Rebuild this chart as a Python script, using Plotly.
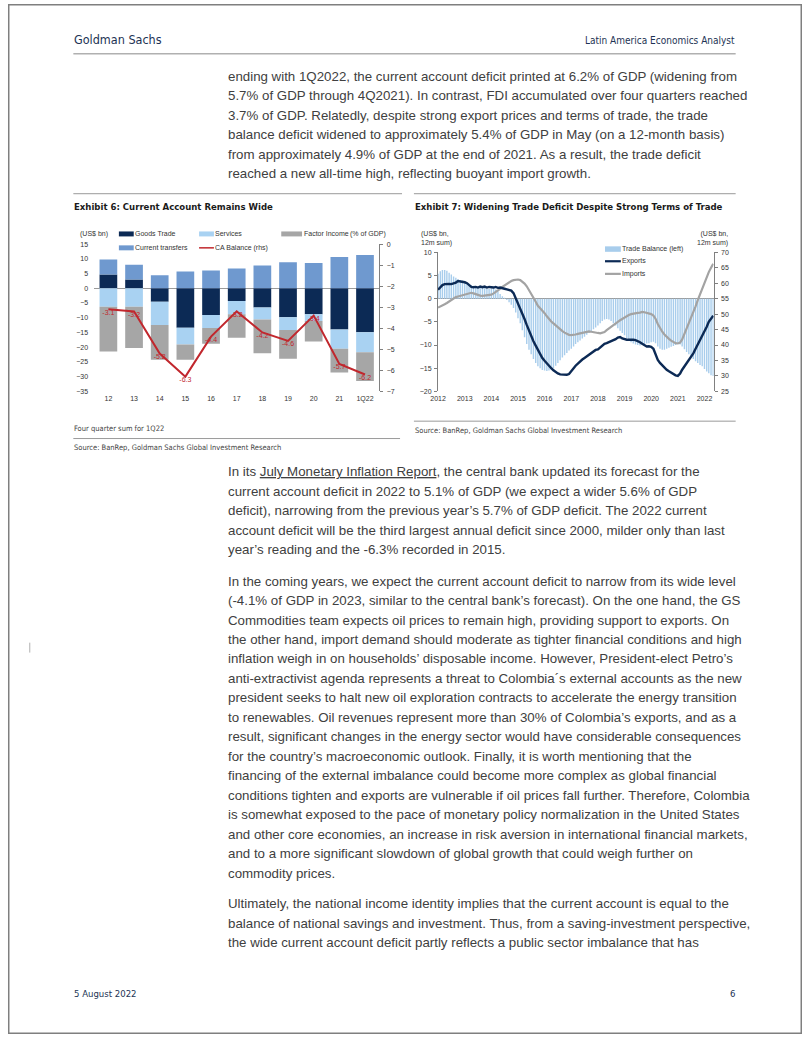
import plotly.graph_objects as go
import pandas as pd

W, H = 802, 1037

# ---------------- Exhibit 6 data (US$ bn, % of GDP) ----------------
ca_periods = ["12", "13", "14", "15", "16", "17", "18", "19", "20", "21", "1Q22"]
goods_trade = [4.7, 3.0, -4.6, -13.4, -9.1, -4.3, -6.5, -9.8, -8.8, -14.0, -14.9]
services = [-6.3, -6.3, -7.9, -5.7, -4.4, -4.5, -4.1, -4.4, -2.3, -6.5, -6.8]
factor_income = [-15.2, -14.0, -11.8, -5.2, -5.3, -8.0, -11.5, -9.7, -7.0, -8.1, -9.8]
current_transfers = [5.1, 5.0, 4.4, 5.7, 6.0, 6.7, 7.7, 8.8, 8.6, 10.6, 11.3]
ca_balance = [-3.1, -3.2, -5.2, -6.3, -4.4, -3.2, -4.2, -4.6, -3.4, -5.7, -6.2]

# ---------------- Exhibit 7 data (monthly, Jan 2012 - May 2022) ----------------
trade_start = "2012-01-01"
trade_balance = [
    5.4, 5.9, 6.2, 6.2, 6.0, 5.6, 5.2, 4.8, 4.5, 4.2, 4.0, 3.9,          # 2012
    3.6, 3.3, 3.0, 2.9, 2.8, 2.7, 2.5, 2.5, 2.4, 2.3, 2.2, 2.1,          # 2013
    2.2, 2.3, 2.0, 1.6, 1.0, 0.5, 0.2, -0.3, -0.8, -1.3, -2.0, -3.0,     # 2014
    -4.2, -5.3, -6.8, -8.3, -9.8, -11.0, -12.0, -13.0, -13.9, -14.6, -15.0, -15.4,  # 2015
    -15.5, -15.6, -15.5, -15.3, -15.0, -14.5, -13.9, -13.3, -12.7, -12.2, -11.7, -11.2,  # 2016
    -10.8, -10.3, -9.8, -9.4, -9.0, -8.6, -8.2, -7.8, -7.4, -7.0, -6.6, -6.2,  # 2017
    -5.8, -5.3, -4.8, -4.5, -4.4, -4.5, -4.8, -5.3, -5.8, -6.4, -6.9, -7.4,    # 2018
    -7.9, -8.5, -9.0, -9.4, -9.7, -9.9, -10.0, -10.1, -10.0, -9.9, -9.7, -9.6,  # 2019
    -9.4, -9.3, -9.6, -10.3, -10.8, -11.0, -11.0, -10.8, -10.6, -10.4, -10.2, -10.0,  # 2020
    -9.8, -9.9, -10.3, -10.9, -11.5, -12.0, -12.5, -13.0, -13.5, -13.9, -14.3, -14.6,  # 2021
    -15.2, -15.7, -16.1, -16.5, -16.7,                                    # 2022
]
exports = [
    57.9, 58.8, 59.4, 59.7, 59.8, 59.8, 59.7, 59.9, 60.2, 60.7, 60.6, 60.4,
    60.3, 60.0, 59.3, 58.8, 58.7, 58.8, 58.6, 58.9, 58.7, 58.9, 58.6, 58.8,
    58.7, 58.6, 58.8, 58.5, 58.6, 58.3, 58.2, 58.0, 57.9, 57.6, 56.8, 55.2,
    53.6, 52.0, 50.3, 48.4, 46.5, 44.6, 42.7, 41.2, 39.8, 38.4, 37.0, 35.8,
    34.9, 34.0, 33.2, 32.5, 31.8, 31.2, 30.8, 30.5, 30.4, 30.3, 30.4, 30.6,
    31.6, 32.5, 33.3, 34.0, 34.8, 35.3, 35.8, 36.3, 36.9, 37.4, 37.9, 38.4,
    38.6, 39.2, 39.8, 40.4, 40.6, 40.9, 41.3, 41.6, 41.9, 42.4, 42.6, 42.1,
    41.8, 41.7, 41.7, 41.8, 41.7, 41.6, 41.3, 40.9, 40.4, 39.8, 39.5, 39.6,
    39.4, 38.8, 37.0, 35.2, 34.2, 33.4, 32.6, 32.0, 31.5, 31.0, 30.6, 30.2,
    30.0, 30.8, 32.0, 33.0, 34.0, 35.0, 36.0, 37.3, 38.8, 40.2, 41.4, 42.6,
    44.3, 45.9, 47.5, 48.6, 49.5,
]
imports = [
    52.1, 52.4, 52.8, 53.2, 53.6, 54.1, 54.7, 55.2, 55.5, 55.7, 55.9, 56.0,
    56.3, 56.6, 56.8, 56.9, 56.7, 56.4, 56.2, 56.0, 55.9, 56.0, 56.1, 56.1,
    56.3, 56.7, 57.1, 57.6, 58.2, 58.8, 59.3, 59.8, 60.3, 60.7, 61.0, 61.2,
    61.2, 61.0, 60.5, 59.9, 59.0, 57.9, 56.6, 55.3, 54.0, 52.7, 51.9, 51.2,
    50.3, 49.3, 48.4, 47.6, 47.0, 46.3, 45.6, 45.0, 44.5, 44.0, 43.6, 43.3,
    43.2, 43.2, 43.4, 43.6, 43.8, 44.0, 44.2, 44.3, 44.4, 44.3, 44.1, 44.0,
    43.9, 43.8, 43.9, 44.2, 44.8, 45.4, 45.9, 46.4, 46.9, 47.5, 48.0, 48.5,
    48.9, 49.3, 49.7, 50.0, 50.2, 50.3, 50.4, 50.5, 50.7, 50.6, 50.4, 50.2,
    50.0, 49.5, 48.5, 46.8, 45.3, 44.3, 43.4, 42.6, 42.0, 41.4, 41.0, 40.6,
    40.5, 40.8, 41.8, 43.5, 45.3, 47.1, 48.8, 50.6, 52.5, 54.5, 56.5, 58.5,
    60.4, 62.0, 63.6, 65.0, 66.3,
]
year_ticks = ["2012", "2013", "2014", "2015", "2016", "2017", "2018", "2019", "2020", "2021", "2022"]

# ---------------- text ----------------
para1 = [
    "ending with 1Q2022, the current account deficit printed at 6.2% of GDP (widening from",
    "5.7% of GDP through 4Q2021). In contrast, FDI accumulated over four quarters reached",
    "3.7% of GDP. Relatedly, despite strong export prices and terms of trade, the trade",
    "balance deficit widened to approximately 5.4% of GDP in May (on a 12-month basis)",
    "from approximately 4.9% of GDP at the end of 2021. As a result, the trade deficit",
    "reached a new all-time high, reflecting buoyant import growth.",
]
para2 = [
    "In its <u>July Monetary Inflation Report</u>, the central bank updated its forecast for the",
    "current account deficit in 2022 to 5.1% of GDP (we expect a wider 5.6% of GDP",
    "deficit), narrowing from the previous year’s 5.7% of GDP deficit. The 2022 current",
    "account deficit will be the third largest annual deficit since 2000, milder only than last",
    "year’s reading and the -6.3% recorded in 2015.",
]
para3 = [
    "In the coming years, we expect the current account deficit to narrow from its wide level",
    "(-4.1% of GDP in 2023, similar to the central bank’s forecast). On the one hand, the GS",
    "Commodities team expects oil prices to remain high, providing support to exports. On",
    "the other hand, import demand should moderate as tighter financial conditions and high",
    "inflation weigh in on households’ disposable income. However, President-elect Petro’s",
    "anti-extractivist agenda represents a threat to Colombia´s external accounts as the new",
    "president seeks to halt new oil exploration contracts to accelerate the energy transition",
    "to renewables. Oil revenues represent more than 30% of Colombia’s exports, and as a",
    "result, significant changes in the energy sector would have considerable consequences",
    "for the country’s macroeconomic outlook. Finally, it is worth mentioning that the",
    "financing of the external imbalance could become more complex as global financial",
    "conditions tighten and exports are vulnerable if oil prices fall further. Therefore, Colombia",
    "is somewhat exposed to the pace of monetary policy normalization in the United States",
    "and other core economies, an increase in risk aversion in international financial markets,",
    "and to a more significant slowdown of global growth that could weigh further on",
    "commodity prices.",
]
para4 = [
    "Ultimately, the national income identity implies that the current account is equal to the",
    "balance of national savings and investment. Thus, from a saving-investment perspective,",
    "the wide current account deficit partly reflects a public sector imbalance that has",
]

# ---------------- styles ----------------
NAVY = "#0c2a55"
SERV = "#a9d2f2"
GRAYB = "#a6a6a6"
TRANS = "#6f99cf"
RED = "#c1272d"
TB = "#a8cdec"
IMPG = "#a3a3a3"
AX = "#808080"
TXT = "#404040"
BODY_FONT = "Liberation Sans, Arial, sans-serif"
NARROW = "Liberation Sans Narrow, Arial Narrow, DejaVu Sans Condensed, Liberation Sans, sans-serif"
CH = "Liberation Sans, Arial, sans-serif"
CF = 7


def px(x):
    return x / W


def py(y):
    return 1 - y / H


fig = go.Figure()

# Exhibit 6 bars
for name, vals, col in [("Goods Trade", goods_trade, NAVY), ("Services", services, SERV),
                        ("Factor Income", factor_income, GRAYB), ("Current transfers", current_transfers, TRANS)]:
    fig.add_trace(go.Bar(x=ca_periods, y=vals, name=name, marker=dict(color=col, line=dict(width=0)),
                         xaxis="x", yaxis="y", showlegend=False))
fig.add_trace(go.Scatter(x=ca_periods, y=ca_balance, mode="lines+text",
                         text=[f"{v:.1f}" for v in ca_balance], textposition="bottom center",
                         textfont=dict(color=RED, size=CF, family=CH),
                         line=dict(color=RED, width=2), xaxis="x", yaxis="y2", showlegend=False))

# Exhibit 7
dates = pd.date_range(trade_start, periods=len(trade_balance), freq="MS")
fig.add_trace(go.Bar(x=dates, y=trade_balance, marker=dict(color=TB, line=dict(width=0)),
                     xaxis="x2", yaxis="y3", showlegend=False))
fig.add_trace(go.Scatter(x=dates, y=imports, mode="lines", line=dict(color=IMPG, width=2.2),
                         xaxis="x2", yaxis="y4", showlegend=False))
fig.add_trace(go.Scatter(x=dates, y=exports, mode="lines", line=dict(color=NAVY, width=2.4),
                         xaxis="x2", yaxis="y4", showlegend=False))

tickfont = dict(size=CF, color="#333333", family=CH)

fig.update_layout(
    width=W, height=H, margin=dict(l=0, r=0, t=0, b=0),
    paper_bgcolor="white", plot_bgcolor="rgba(0,0,0,0)",
    barmode="relative", bargap=0.31, showlegend=False,
    xaxis=dict(domain=[px(87), px(375)], anchor="y", type="category", showgrid=False,
               showline=False, ticks="", tickfont=tickfont, ticklabelstandoff=2),
    yaxis=dict(domain=[py(390), py(241.7)], anchor="x", range=[-35, 15], dtick=5, showgrid=False,
               zeroline=True, zerolinecolor="#9a9a9a", zerolinewidth=1, showline=False, ticks="",
               tickfont=tickfont, ticklabelstandoff=5),
    yaxis2=dict(overlaying="y", anchor="x", side="right", range=[-7, 0], dtick=1, showgrid=False,
                zeroline=False, showline=True, linecolor=AX, linewidth=1, ticks="outside", ticklen=3,
                tickcolor=AX, tickfont=tickfont, ticklabelstandoff=2),
    xaxis2=dict(domain=[px(434.3), px(712.7)], anchor="y3", type="date",
                range=["2011-12-31", "2022-05-06"], showgrid=False, showline=False, ticks="",
                tickvals=[f"{y}-01-01" for y in year_ticks], ticktext=year_ticks,
                tickfont=tickfont, ticklabelstandoff=2),
    yaxis3=dict(domain=[py(390), py(250)], anchor="x2", range=[-20, 10], dtick=5, showgrid=False,
                zeroline=True, zerolinecolor="#9a9a9a", zerolinewidth=1, showline=True, linecolor=AX,
                linewidth=1, ticks="outside", ticklen=3, tickcolor=AX, tickfont=tickfont,
                ticklabelstandoff=1),
    yaxis4=dict(overlaying="y3", anchor="x2", side="right", range=[25, 70], dtick=5, showgrid=False,
                zeroline=False, showline=True, linecolor=AX, linewidth=1, ticks="outside", ticklen=3,
                tickcolor=AX, tickfont=tickfont, ticklabelstandoff=2),
)

shapes = []
ann = []


def hline(x0, x1, y, color="#a0a0a0", width=1):
    shapes.append(dict(type="line", xref="paper", yref="paper", x0=px(x0), x1=px(x1), y0=py(y), y1=py(y),
                       line=dict(color=color, width=width)))


def text(x, y, s, size, color=TXT, family=BODY_FONT, xanchor="left", yanchor="middle", align="left"):
    ann.append(dict(xref="paper", yref="paper", x=px(x), y=py(y), text=s, showarrow=False,
                    xanchor=xanchor, yanchor=yanchor, align=align, borderpad=0,
                    font=dict(size=size, color=color, family=family)))


def rect(x0, x1, y0, y1, color):
    shapes.append(dict(type="rect", xref="paper", yref="paper", x0=px(x0), x1=px(x1), y0=py(y1), y1=py(y0),
                       fillcolor=color, line=dict(width=0)))


# page border
shapes.append(dict(type="rect", xref="paper", yref="paper", x0=px(0.75), x1=px(801.25), y0=py(1036.25),
                   y1=py(0.75), line=dict(color="#7f7f7f", width=1.5)))
# revision mark
shapes.append(dict(type="line", xref="paper", yref="paper", x0=px(22), x1=px(22), y0=py(643), y1=py(653),
                   line=dict(color="#b0b0b0", width=1)))

# header
text(66, 36, "Goldman Sachs", 12.5, color="#1d3354", family=NARROW)
text(735, 37, "Latin America Economics Analyst", 10, color="#1d3354", family=NARROW, xanchor="right")
hline(66, 735, 50, color="#b0b0b0", width=1.5)

LS = 19.6
BS = 13.3
for i, s in enumerate(para1):
    text(221, 73 + i * LS, s, BS)
for i, s in enumerate(para2):
    text(221, 471 + i * LS, s, BS)
for i, s in enumerate(para3):
    text(221, 581 + i * LS, s, BS)
for i, s in enumerate(para4):
    text(221, 906 + i * LS, s, BS)

# exhibit frames
hline(66, 398, 191, color="#9a9a9a", width=1)
hline(410, 735, 191, color="#9a9a9a", width=1)
text(66, 204, "<b>Exhibit 6: Current Account Remains Wide</b>", 9.5, color="#1a1a1a", family=NARROW)
text(410, 204, "<b>Exhibit 7: Widening Trade Deficit Despite Strong Terms of Trade</b>", 9.5, color="#1a1a1a",
     family=NARROW)

# exhibit 6 legend
LC = "#333333"
text(72, 231.5, "(US$ bn)", CF, family=CH, color=LC)
rect(112, 127, 229, 234, NAVY)
text(127.5, 231.5, "Goods Trade", CF, family=CH, color=LC)
rect(193, 208, 229, 234, SERV)
text(208.5, 231.5, "Services", CF, family=CH, color=LC)
rect(276, 297, 229, 234, GRAYB)
text(297.5, 231.5, "Factor Income", CF, family=CH, color=LC)
text(383, 231.5, "(% of GDP)", CF, family=CH, color=LC, xanchor="right")
rect(112, 127, 243, 248, TRANS)
text(127.5, 245.5, "Current transfers", CF, family=CH, color=LC)
shapes.append(dict(type="line", xref="paper", yref="paper", x0=px(193), x1=px(208), y0=py(245.5), y1=py(245.5),
                   line=dict(color=RED, width=1.5)))
text(208.5, 245.5, "CA Balance (rhs)", CF, family=CH, color=LC)

# exhibit 7 legend and axis titles
text(416, 236, "(US$ bn,<br>12m sum)", CF, family=CH, color=LC)
text(728, 236, "(US$ bn,<br>12m sum)", CF, family=CH, color=LC, xanchor="right", align="right")
rect(603, 619, 244, 249.5, TB)
text(619.5, 246.7, "Trade Balance (left)", CF, family=CH, color=LC)
shapes.append(dict(type="line", xref="paper", yref="paper", x0=px(603), x1=px(619), y0=py(259), y1=py(259),
                   line=dict(color=NAVY, width=2.2)))
text(619.5, 259, "Exports", CF, family=CH, color=LC)
shapes.append(dict(type="line", xref="paper", yref="paper", x0=px(603), x1=px(619), y0=py(271.7), y1=py(271.7),
                   line=dict(color=IMPG, width=2.2)))
text(619.5, 271.7, "Imports", CF, family=CH, color=LC)

# notes and sources
text(66, 427.5, "Four quarter sum for 1Q22", 7.5, family=NARROW, color="#444444")
hline(66, 396, 437.5, color="#9a9a9a", width=1)
text(66, 447, "Source: BanRep, Goldman Sachs Global Investment Research", 7.5, family=NARROW, color="#444444")
hline(410, 735, 420, color="#9a9a9a", width=1)
text(410, 429.3, "Source: BanRep, Goldman Sachs Global Investment Research", 7.5, family=NARROW, color="#444444")

# footer
text(66, 996, "5 August 2022", 9.5, color="#1d3354", family=NARROW)
text(735, 996, "6", 9.5, color="#1d3354", family=NARROW, xanchor="right")

fig.update_layout(shapes=shapes, annotations=ann)
fig.write_html(
    "out.html",
    config={"displayModeBar": False, "staticPlot": True},
    post_script=(
        "document.documentElement.style.margin='0px';"
        "document.body.style.margin='0px';document.body.style.padding='0px';"
        "document.documentElement.style.overflow='hidden';document.body.style.overflow='hidden';"
        "var gd=document.getElementById('{plot_id}');"
        "gd.style.position='absolute';gd.style.left='0px';gd.style.top='0px';"
    ),
)
